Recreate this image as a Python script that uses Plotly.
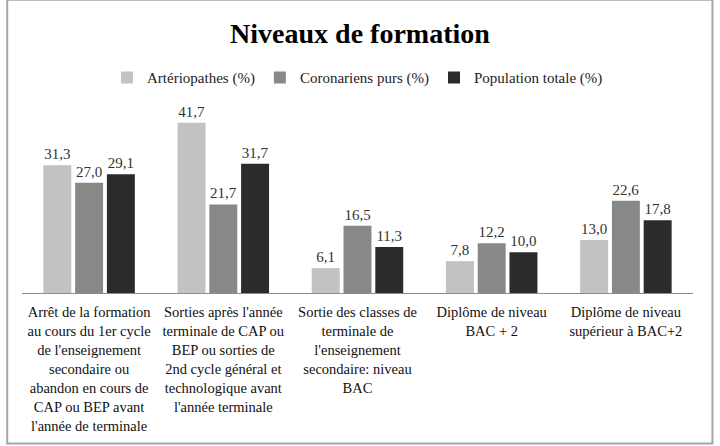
import plotly.graph_objects as go

categories = [
    "Arrêt de la formation<br>au cours du 1er cycle<br>de l'enseignement<br>secondaire ou<br>abandon en cours de<br>CAP ou BEP avant<br>l'année de terminale",
    "Sorties après l'année<br>terminale de CAP ou<br>BEP ou sorties de<br>2nd cycle général et<br>technologique avant<br>l'année terminale",
    "Sortie des classes de<br>terminale de<br>l'enseignement<br>secondaire: niveau<br>BAC",
    "Diplôme de niveau<br>BAC + 2",
    "Diplôme de niveau<br>supérieur à BAC+2",
]
series_names = ["Artériopathes (%)", "Coronariens purs (%)", "Population totale (%)"]
arteriopathes = [31.3, 41.7, 6.1, 7.8, 13.0]
coronariens = [27.0, 21.7, 16.5, 12.2, 22.6]
population = [29.1, 31.7, 11.3, 10.0, 17.8]

colors = ["#c2c2c2", "#888888", "#2b2b2b"]
font_family = "Liberation Serif, DejaVu Serif, serif"

fig = go.Figure()
for name, vals, col in zip(series_names, [arteriopathes, coronariens, population], colors):
    fig.add_trace(go.Bar(
        x=categories, y=vals, name=name,
        marker=dict(color=col, line=dict(width=0)),
        texttemplate="%{y:.1f}", textposition="outside",
        textfont=dict(size=15, color="#333333", family=font_family),
        cliponaxis=False,
    ))

fig.update_layout(
    width=720, height=446,
    separators=", ",
    paper_bgcolor="white", plot_bgcolor="white",
    margin=dict(l=22, r=27, t=100, b=153),
    barmode="group", bargap=0.29, bargroupgap=0.12,
    title=dict(text="<b>Niveaux de formation</b>", x=0.5, xanchor="center",
               y=0.925, yanchor="middle",
               font=dict(size=28, color="black", family=font_family)),
    legend=dict(orientation="h", x=0.5, xanchor="center", y=1.115, yanchor="middle",
                font=dict(size=15, color="#222222", family=font_family),
                itemwidth=30, traceorder="normal"),
    showlegend=True,
    font=dict(family=font_family),
)
fig.update_xaxes(showline=True, linecolor="#8c8c8c", linewidth=1, ticks="",
                 tickfont=dict(size=14.5, color="#111111", family=font_family),
                 tickangle=0, showgrid=False, ticklabelstandoff=6)
fig.update_yaxes(visible=False, range=[0, 47.3], showgrid=False)

fig.add_shape(type="rect", xref="paper", yref="paper",
              x0=-0.022, x1=1.029, y0=-0.78, y1=1.52,
              line=dict(color="#a6a6a6", width=2), layer="below")

fig.write_html("out.html")
